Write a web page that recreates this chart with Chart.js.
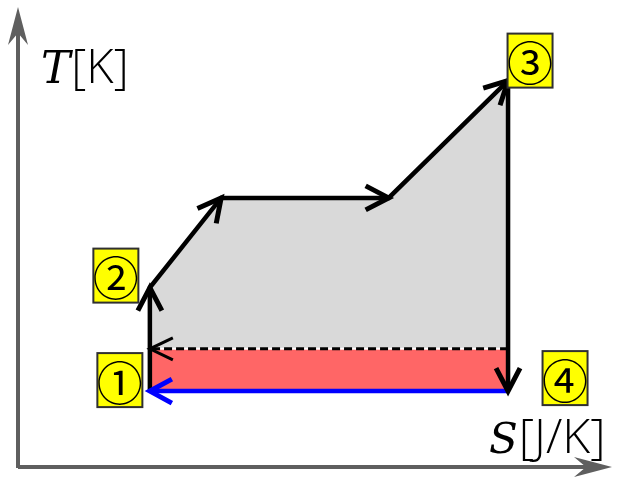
<!DOCTYPE html>
<html>
<head>
<meta charset="utf-8">
<script src="https://cdn.jsdelivr.net/npm/chart.js@4.4.0/dist/chart.umd.min.js"></script>
<style>
  html, body { margin: 0; padding: 0; background: #ffffff; }
  #c { display: block; }
</style>
</head>
<body>
<canvas id="c" width="618" height="478"></canvas>
<script>
// ---- data (entropy S, temperature T in arbitrary units) ----
const cycleS = [2.22, 2.22, 3.42, 6.24, 8.25, 8.25];   // 1, 2, a, b, 3, 4
const cycleT = [1.65, 3.9, 5.85, 5.85, 8.4, 1.65];
const heatOutS = [8.25, 2.22];                          // 4 -> 1 (blue)
const heatOutT = [1.65, 1.65];
const refS = [8.25, 2.22];                              // dashed line
const refT = [2.57, 2.57];
const grayS = [2.22, 3.42, 6.24, 8.25];                 // upper area
const grayT = [3.9, 5.85, 5.85, 8.4];
const stateLabels = ['①', '②', '③', '④'];
const stateIndex = [0, 1, 4, 5];                        // points of cycle that are states
const axisTitleT = ['T', '[K]'];
const axisTitleS = ['S', '[J/K]'];

const toPts = (xs, ys) => xs.map((x, i) => ({ x: x, y: ys[i] }));

function drawV(ctx, x0, y0, x1, y1, len, half, color, width) {
  const dx = x1 - x0, dy = y1 - y0;
  const L = Math.hypot(dx, dy);
  const ux = dx / L, uy = dy / L;
  const px = -uy, py = ux;
  const bx = x1 - ux * len, by = y1 - uy * len;
  ctx.save();
  ctx.strokeStyle = color;
  ctx.lineWidth = width;
  ctx.lineCap = 'butt';
  ctx.lineJoin = 'miter';
  ctx.beginPath();
  ctx.moveTo(bx + px * half, by + py * half);
  ctx.lineTo(x1, y1);
  ctx.lineTo(bx - px * half, by - py * half);
  ctx.stroke();
  ctx.restore();
}

function stealth(ctx, x0, y0, x1, y1, len, half, notch) {
  const dx = x1 - x0, dy = y1 - y0;
  const L = Math.hypot(dx, dy);
  const ux = dx / L, uy = dy / L;
  const px = -uy, py = ux;
  const bx = x1 - ux * len, by = y1 - uy * len;
  const nx = x1 - ux * (len - notch), ny = y1 - uy * (len - notch);
  ctx.beginPath();
  ctx.moveTo(x1, y1);
  ctx.lineTo(bx + px * half, by + py * half);
  ctx.lineTo(nx, ny);
  ctx.lineTo(bx - px * half, by - py * half);
  ctx.closePath();
  ctx.fill();
}

const axesPlugin = {
  id: 'axesArrows',
  beforeDatasetsDraw(chart) {
    const { ctx } = chart;
    const xs = chart.scales.x, ys = chart.scales.y;
    const ox = xs.getPixelForValue(0), oy = ys.getPixelForValue(0);
    const tx = xs.getPixelForValue(10), ty = ys.getPixelForValue(10);
    ctx.save();
    ctx.strokeStyle = '#5f5f5f';
    ctx.fillStyle = '#5f5f5f';
    ctx.lineWidth = 4;
    ctx.beginPath();
    ctx.moveTo(ox, oy + 1); ctx.lineTo(ox, ty + 20);
    ctx.moveTo(ox, oy); ctx.lineTo(tx - 20, oy);
    ctx.stroke();
    stealth(ctx, ox, oy, ox, ty, 38, 10, 12);
    stealth(ctx, ox, oy, tx, oy, 38, 10, 12);
    ctx.restore();

    // axis titles
    ctx.save();
    ctx.fillStyle = '#000';
    ctx.textBaseline = 'alphabetic';
    ctx.textAlign = 'left';
    ctx.font = 'italic 44px "DejaVu Serif"';
    ctx.fillText(axisTitleT[0], 41, 83);
    let w = ctx.measureText(axisTitleT[0]).width;
    ctx.font = '300 47px "Open Sans"';
    ctx.fillText(axisTitleT[1], 41 + w + 1, 83);
    ctx.font = 'italic 42px "DejaVu Serif"';
    ctx.fillText(axisTitleS[0], 489, 453);
    w = ctx.measureText(axisTitleS[0]).width;
    ctx.font = '300 48px "Open Sans"';
    ctx.fillText(axisTitleS[1], 489 + w + 1, 453);
    ctx.restore();
  }
};

const arrowPlugin = {
  id: 'pathArrows',
  afterDatasetsDraw(chart) {
    const ctx = chart.ctx;
    chart.data.datasets.forEach((ds, i) => {
      if (!ds.arrowAt) return;
      const pts = chart.getDatasetMeta(i).data;
      ds.arrowAt.forEach(k => {
        const p = pts[k], q = pts[k - 1];
        drawV(ctx, q.x, q.y, p.x, p.y, ds.arrowLen, ds.arrowHalf, ds.borderColor, ds.arrowWidth);
      });
    });

    // state labels
    const pts = chart.getDatasetMeta(0).data;
    const offsets = [[-30, -11], [-34, -12], [22, -20], [57, -13]];
    ctx.save();
    stateLabels.forEach((lab, i) => {
      const p = pts[stateIndex[i]];
      const cx = p.x + offsets[i][0], cy = p.y + offsets[i][1];
      const bw = 45, bh = 54;
      ctx.fillStyle = '#ffff00';
      ctx.fillRect(cx - bw / 2, cy - bh / 2, bw, bh);
      ctx.strokeStyle = '#303030';
      ctx.lineWidth = 2;
      ctx.strokeRect(cx - bw / 2, cy - bh / 2, bw, bh);
      ctx.fillStyle = '#000';
      ctx.font = '400 46px "Noto Sans CJK JP"';
      ctx.textAlign = 'center';
      ctx.textBaseline = 'middle';
      ctx.fillText(lab, cx, cy + 2);
    });
    ctx.restore();
  }
};

new Chart(document.getElementById('c'), {
  type: 'line',
  data: {
    datasets: [
      {
        label: 'cycle',
        data: toPts(cycleS, cycleT),
        borderColor: '#000000',
        borderWidth: 4.5,
        pointRadius: 0,
        fill: false,
        borderCapStyle: 'butt',
        borderJoinStyle: 'miter',
        tension: 0,
        order: 1,
        arrowAt: [1, 2, 3, 4, 5],
        arrowLen: 23,
        arrowHalf: 12,
        arrowWidth: 5
      },
      {
        label: 'heat out',
        data: toPts(heatOutS, heatOutT),
        borderColor: '#0000ff',
        borderWidth: 4.5,
        pointRadius: 0,
        fill: false,
        borderCapStyle: 'butt',
        order: 2,
        arrowAt: [1],
        arrowLen: 22,
        arrowHalf: 12,
        arrowWidth: 5
      },
      {
        label: 'reference',
        data: toPts(refS, refT),
        borderColor: '#000000',
        borderWidth: 3,
        borderDash: [8, 4],
        pointRadius: 0,
        fill: false,
        order: 3,
        arrowAt: [1],
        arrowLen: 23,
        arrowHalf: 11,
        arrowWidth: 3
      },
      {
        label: 'lower area',
        data: toPts(refS, refT),
        borderColor: '#ffffff',
        borderWidth: 2,
        backgroundColor: '#ff6666',
        pointRadius: 0,
        fill: { value: heatOutT[0] },
        order: 8
      },
      {
        label: 'upper area',
        data: toPts(grayS, grayT),
        borderColor: 'rgba(0,0,0,0)',
        borderWidth: 0,
        backgroundColor: '#d9d9d9',
        pointRadius: 0,
        fill: { value: refT[0] },
        order: 9
      }
    ]
  },
  options: {
    responsive: false,
    animation: false,
    layout: { padding: { left: 18, right: 6, top: 7, bottom: 11 } },
    plugins: { legend: { display: false }, tooltip: { enabled: false } },
    scales: {
      x: { type: 'linear', min: 0, max: 10, display: false },
      y: { type: 'linear', min: 0, max: 10, display: false }
    }
  },
  plugins: [axesPlugin, arrowPlugin]
});
</script>
</body>
</html>
